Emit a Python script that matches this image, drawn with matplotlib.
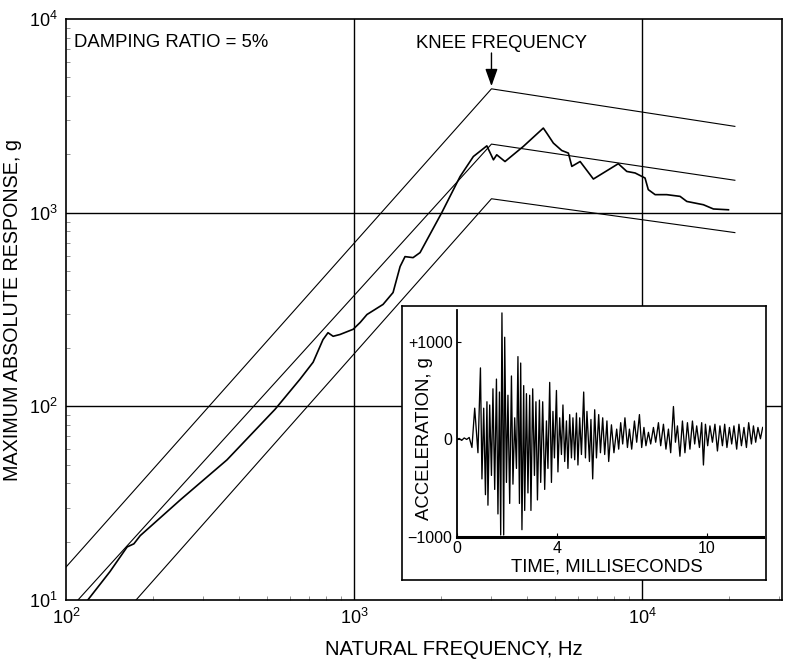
import matplotlib
matplotlib.use("Agg")
import matplotlib.pyplot as plt

plt.rcParams["font.family"] = ["Liberation Sans", "DejaVu Sans"]
plt.rcParams["mathtext.default"] = "regular"

# envelope lines (natural frequency Hz, response g)
upper_f = [100, 3000, 21000]
upper_g = [14.8, 4360, 2790]
mid_f = [110, 3000, 21000]
mid_g = [10, 2260, 1470]
low_f = [175, 3000, 21000]
low_g = [10, 1180, 789]

# measured shock response spectrum
srs_f = [119, 142, 163, 172, 181, 250, 362, 532, 649, 721, 780, 812, 846, 894,
         993, 1050, 1109, 1261, 1366, 1445, 1503, 1603, 1695, 2016, 2335, 2596,
         2891, 3048, 3129, 3343, 3870, 4541, 4666, 4921, 5262, 5548, 5703, 6095,
         6776, 8270, 8850, 9460, 10240, 10510, 11100, 12180, 13550, 14300,
         16330, 17690, 19950]
srs_g = [10, 14.0, 18.8, 19.5, 21.5, 33, 52.9, 96.6, 138, 169, 221, 240, 230,
         235, 250, 271, 298, 336, 387, 527, 593, 586, 622, 1000, 1538, 1950,
         2213, 1875, 1990, 1837, 2198, 2734, 2577, 2287, 2094, 2031, 1734, 1837,
         1492, 1790, 1633, 1603, 1510, 1315, 1239, 1239, 1214, 1143, 1099, 1045,
         1035]

# acceleration time history (ms, g)
acc_t = [0, 0.1, 0.2, 0.3, 0.4, 0.5, 0.61, 0.72, 0.85, 0.95, 1.01, 1.08, 1.15,
         1.21, 1.25, 1.32, 1.39, 1.45, 1.52, 1.59, 1.65, 1.71, 1.76, 1.81, 1.88,
         1.92, 1.99, 2.05, 2.12, 2.19, 2.25, 2.32, 2.39, 2.45, 2.51, 2.56, 2.61,
         2.68, 2.72, 2.79, 2.85, 2.92, 2.97, 3.04, 3.11, 3.17, 3.23, 3.31, 3.36,
         3.44, 3.52, 3.59, 3.65, 3.72, 3.79, 3.85, 3.91, 3.99, 4.05, 4.12, 4.19,
         4.25, 4.32, 4.39, 4.45, 4.52, 4.59, 4.65, 4.72, 4.79, 4.85, 4.92, 4.99,
         5.08, 5.15, 5.21, 5.31, 5.37, 5.44, 5.52, 5.59, 5.68, 5.75, 5.84, 5.92,
         6.01, 6.08, 6.19, 6.29, 6.40, 6.48, 6.56, 6.64, 6.73, 6.83, 6.91, 7.00,
         7.11, 7.20, 7.31, 7.40, 7.49, 7.57, 7.67, 7.76, 7.87, 7.96, 8.07, 8.16,
         8.27, 8.37, 8.47, 8.56, 8.67, 8.75, 8.83, 8.93, 9.03, 9.13, 9.23, 9.33,
         9.43, 9.52, 9.60, 9.71, 9.80, 9.87, 9.95, 10.04, 10.13, 10.23, 10.33,
         10.43, 10.53, 10.63, 10.72, 10.81, 10.91, 11.00, 11.09, 11.20, 11.29,
         11.39, 11.49, 11.59, 11.68, 11.79, 11.87, 11.96, 12.05, 12.15, 12.24]
acc_g = [0, 10, -10, 15, 0, 20, -83, 321, -137, 735, -406, 321, -568,
         387, -676, 354, -370, 520, -514, 620, -766, 487, -982, 1300, -982,
         1050, -442, 454, -658, 652, -460, 222, -298, 851, -658, 785, -928,
         553, -730, 470, -550, 454, -730, 520, -370, 387, -622, 404, -442,
         387, -514, 190, -298, 586, -442, 288, -190, 503, -334, 222, -155,
         354, -227, 190, -298, 255, -190, 222, -209, 271, -263, 222, -155,
         487, -190, 288, -227, 205, -406, 305, -190, 255, -137, 222, -155,
         190, -227, 150, -137, 106, -100, 172, -47, 222, -83, 106, -100,
         189, -29, 255, -83, 123, -65, 73, -47, 123, -29, 172, -65,
         156, -100, 106, -137, 338, -29, 139, -173, 189, -137, 172, -100,
         189, -47, 139, -83, 172, -263, 156, -65, 139, -29, 156,
         -119, 139, -65, 156, -83, 123, -47, 139, -100, 156,
         -65, 123, -83, 172, -47, 139, -29, 123, 7, 123]

fig = plt.figure(figsize=(7.87, 6.60), dpi=100)
ax = fig.add_axes([0.0839, 0.0909, 0.9097, 0.8803])

ax.plot(upper_f, upper_g, color="black", lw=0.8)
ax.plot(mid_f, mid_g, color="black", lw=0.8)
ax.plot(low_f, low_g, color="black", lw=0.8)
ax.plot(srs_f, srs_g, color="black", lw=1.2)

ax.set_xscale("log")
ax.set_yscale("log")
ax.set_xlim(100, 3.06e4)
ax.set_ylim(10, 1e4)
ax.set_xticks([1e2, 1e3, 1e4])
ax.set_yticks([1e1, 1e2, 1e3, 1e4])
for v in [1e3, 1e4]:
    ax.axvline(v, color="black", lw=1.0)
for v in [1e2, 1e3]:
    ax.axhline(v, color="black", lw=1.0)
ax.tick_params(which="major", length=0, labelsize=13, pad=6)
ax.tick_params(which="minor", direction="in", length=3, width=0.5, color="0.4",
               labelbottom=False, labelleft=False)
for s in ax.spines.values():
    s.set_linewidth(1.2)

ax.set_xlabel("NATURAL FREQUENCY, Hz", fontsize=14.6)
ax.xaxis.set_label_coords(0.542, -0.068)
ax.set_ylabel("MAXIMUM ABSOLUTE RESPONSE, g", fontsize=14.2)
ax.yaxis.set_label_coords(-0.062, 0.5)

ax.text(0.011, 0.960, "DAMPING RATIO = 5%", transform=ax.transAxes,
        fontsize=13.3, va="center", ha="left")
ax.text(0.6087, 0.958, "KNEE FREQUENCY", transform=ax.transAxes,
        fontsize=13.3, va="center", ha="center")
ax.annotate("", xy=(3000, 4500), xycoords="data",
            xytext=(3000, 0.9415), textcoords=("data", "axes fraction"),
            arrowprops=dict(arrowstyle="-|>,head_length=0.7,head_width=0.25",
                            color="black", lw=1.0, mutation_scale=15,
                            shrinkA=0, shrinkB=0))

# inset box
box = fig.add_axes([0.5104, 0.1212, 0.4629, 0.4152])
box.set_xticks([])
box.set_yticks([])
box.set_facecolor("white")
for s in box.spines.values():
    s.set_linewidth(1.2)

ins = fig.add_axes([0.5803, 0.1868, 0.3888, 0.3435])
ins.patch.set_alpha(0)
ins.plot(acc_t, acc_g, color="black", lw=0.95)
ins.set_xlim(0, 12.24)
ins.set_ylim(-1000, 1330)
ins.set_xticks([0, 4, 10])
ins.set_yticks([-1000, 0, 1000])
ins.set_yticklabels(["\u22121000", "0", "+1000"])
ins.spines["top"].set_visible(False)
ins.spines["right"].set_visible(False)
ins.spines["left"].set_linewidth(1.3)
ins.spines["bottom"].set_linewidth(2.2)
ins.tick_params(direction="in", length=3, labelsize=11.5, pad=3)
ins.set_xlabel("TIME, MILLISECONDS", fontsize=13.3)
ins.xaxis.set_label_coords(0.49, -0.094)
ins.set_ylabel("ACCELERATION, g", fontsize=13.3)
ins.yaxis.set_label_coords(-0.077, 0.435)

fig.savefig("out.png", dpi=100)
